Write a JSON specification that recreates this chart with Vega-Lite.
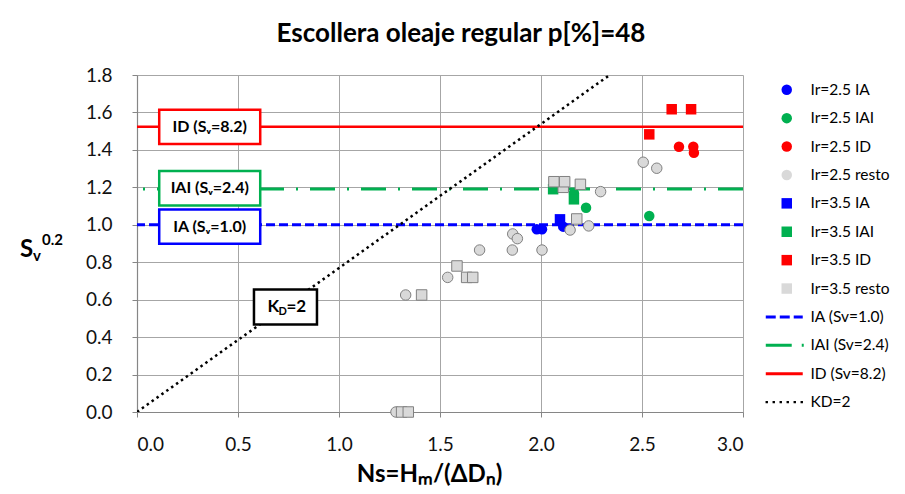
{
  "$schema": "https://vega.github.io/schema/vega-lite/v6.json",
  "width": 606,
  "height": 337,
  "autosize": "none",
  "padding": {"left": 137, "top": 75, "right": 162, "bottom": 82},
  "background": "white",
  "config": {
    "font": "Lato",
    "view": {"stroke": null},
    "axis": {
      "labelFont": "Lato", "labelFontSize": 19, "labelColor": "#111", "format": ".1f",
      "gridColor": "#a6a6a6", "gridWidth": 1, "domainColor": "#868686", "domainWidth": 1.2,
      "tickColor": "#868686", "tickSize": 5, "titleFont": "Lato", "titleColor": "#000"
    },
    "axisX": {"tickCount": 20, "labelPadding": 18, "labelOverlap": false},
    "axisY": {"tickCount": 20, "labelPadding": 20, "labelOverlap": false}
  },
  "title": {
    "text": "Escollera oleaje regular p[%]=48",
    "font": "Lato", "fontSize": 26, "fontWeight": "bold", "color": "#000",
    "anchor": "middle", "dx": 21, "offset": 19
  },
  "datasets": {
    "hlines": [
      {"name": "IA", "sv": 1.0},
      {"name": "IAI", "sv": 1.191},
      {"name": "ID", "sv": 1.523}
    ],
    "kd": [
      {"ns": 0.0, "sv": 0.0},
      {"ns": 2.34, "sv": 1.8}
    ],
    "points": [
      {"serie": "Ir=2.5 IA", "ns": 1.979, "sv": 0.976},
      {"serie": "Ir=2.5 IA", "ns": 2.005, "sv": 0.976},
      {"serie": "Ir=2.5 IA", "ns": 2.11, "sv": 0.99},
      {"serie": "Ir=2.5 IAI", "ns": 2.163, "sv": 1.168},
      {"serie": "Ir=2.5 IAI", "ns": 2.223, "sv": 1.091},
      {"serie": "Ir=2.5 IAI", "ns": 2.536, "sv": 1.047},
      {"serie": "Ir=2.5 ID", "ns": 2.683, "sv": 1.417},
      {"serie": "Ir=2.5 ID", "ns": 2.754, "sv": 1.417},
      {"serie": "Ir=2.5 ID", "ns": 2.757, "sv": 1.385},
      {"serie": "Ir=2.5 resto", "ns": 2.506, "sv": 1.334},
      {"serie": "Ir=2.5 resto", "ns": 2.573, "sv": 1.302},
      {"serie": "Ir=2.5 resto", "ns": 2.295, "sv": 1.177},
      {"serie": "Ir=2.5 resto", "ns": 2.144, "sv": 0.972},
      {"serie": "Ir=2.5 resto", "ns": 2.236, "sv": 0.994},
      {"serie": "Ir=2.5 resto", "ns": 1.86, "sv": 0.951},
      {"serie": "Ir=2.5 resto", "ns": 1.883, "sv": 0.926},
      {"serie": "Ir=2.5 resto", "ns": 1.696, "sv": 0.865},
      {"serie": "Ir=2.5 resto", "ns": 1.858, "sv": 0.865},
      {"serie": "Ir=2.5 resto", "ns": 2.005, "sv": 0.865},
      {"serie": "Ir=2.5 resto", "ns": 1.538, "sv": 0.719},
      {"serie": "Ir=2.5 resto", "ns": 1.33, "sv": 0.625},
      {"serie": "Ir=2.5 resto", "ns": 1.282, "sv": 0.0},
      {"serie": "Ir=3.5 IA", "ns": 2.094, "sv": 1.029},
      {"serie": "Ir=3.5 IAI", "ns": 2.163, "sv": 1.136},
      {"serie": "Ir=3.5 IAI", "ns": 2.06, "sv": 1.19},
      {"serie": "Ir=3.5 ID", "ns": 2.647, "sv": 1.617},
      {"serie": "Ir=3.5 ID", "ns": 2.743, "sv": 1.617},
      {"serie": "Ir=3.5 ID", "ns": 2.536, "sv": 1.483},
      {"serie": "Ir=3.5 resto", "ns": 2.11, "sv": 1.2},
      {"serie": "Ir=3.5 resto", "ns": 2.064, "sv": 1.23},
      {"serie": "Ir=3.5 resto", "ns": 2.117, "sv": 1.23},
      {"serie": "Ir=3.5 resto", "ns": 2.195, "sv": 1.216},
      {"serie": "Ir=3.5 resto", "ns": 2.177, "sv": 1.031},
      {"serie": "Ir=3.5 resto", "ns": 1.584, "sv": 0.78},
      {"serie": "Ir=3.5 resto", "ns": 1.632, "sv": 0.719},
      {"serie": "Ir=3.5 resto", "ns": 1.662, "sv": 0.719},
      {"serie": "Ir=3.5 resto", "ns": 1.409, "sv": 0.625},
      {"serie": "Ir=3.5 resto", "ns": 1.31, "sv": 0.0},
      {"serie": "Ir=3.5 resto", "ns": 1.343, "sv": 0.0}
    ],
    "boxes": [
      {"grp": "ID", "label": "ID (Sᵥ=8.2)", "ns": 0.36, "sv": 1.523},
      {"grp": "IAI", "label": "IAI (Sᵥ=2.4)", "ns": 0.36, "sv": 1.195},
      {"grp": "IA", "label": "IA (Sᵥ=1.0)", "ns": 0.36, "sv": 0.99}
    ],
    "kdbox": [
      {"ns": 0.735, "sv": 0.561}
    ],
    "ytitle": [
      {"ns": 0, "sv": 0.828}
    ]
  },
  "layer": [
    {
      "data": {"name": "hlines"},
      "transform": [{"filter": "datum.name == 'IA'"}],
      "mark": {"type": "rule", "color": "#0000ff", "strokeWidth": 3, "strokeDash": [9, 4]},
      "encoding": {"y": {"field": "sv", "type": "quantitative", "scale": {"domain": [0, 1.8], "nice": false, "zero": false}, "axis": {"values": [0, 0.2, 0.4, 0.6, 0.8, 1.0, 1.2, 1.4, 1.6, 1.8], "title": null}}}
    },
    {
      "data": {"name": "hlines"},
      "transform": [{"filter": "datum.name == 'IAI'"}],
      "mark": {"type": "rule", "color": "#00b050", "strokeWidth": 3, "strokeDash": [25, 12, 2, 12]},
      "encoding": {"y": {"field": "sv", "type": "quantitative"}}
    },
    {
      "data": {"name": "hlines"},
      "transform": [{"filter": "datum.name == 'ID'"}],
      "mark": {"type": "rule", "color": "#ff0000", "strokeWidth": 2.5},
      "encoding": {"y": {"field": "sv", "type": "quantitative"}}
    },
    {
      "data": {"name": "kd"},
      "mark": {"type": "line", "color": "#000000", "strokeWidth": 2.5, "strokeDash": [2.5, 3.5], "clip": true},
      "encoding": {
        "x": {
          "field": "ns", "type": "quantitative",
          "scale": {"domain": [0, 3], "nice": false, "zero": false},
          "axis": {
            "values": [0, 0.5, 1, 1.5, 2, 2.5, 3],
            "title": "Ns=Hₘ/(ΔDₙ)", "titleFontSize": 24, "titleFontWeight": "bold",
            "titleX": 292, "titleY": 69, "titleBaseline": "alphabetic"
          }
        },
        "y": {"field": "sv", "type": "quantitative"}
      }
    },
    {
      "data": {"name": "points"},
      "mark": {"type": "point", "filled": true, "size": 110, "opacity": 1, "strokeWidth": 1},
      "encoding": {
        "x": {"field": "ns", "type": "quantitative"},
        "y": {"field": "sv", "type": "quantitative"},
        "color": {
          "field": "serie", "type": "nominal",
          "scale": {
            "domain": ["Ir=2.5 IA", "Ir=2.5 IAI", "Ir=2.5 ID", "Ir=2.5 resto", "Ir=3.5 IA", "Ir=3.5 IAI", "Ir=3.5 ID", "Ir=3.5 resto", "IA (Sv=1.0)", "IAI (Sv=2.4)", "ID (Sv=8.2)", "KD=2"],
            "range": ["#0000ff", "#00b050", "#ff0000", "#d9d9d9", "#0000ff", "#00b050", "#ff0000", "#d9d9d9", "#0000ff", "#00b050", "#ff0000", "#000000"]
          },
          "legend": {
            "orient": "none", "legendX": 642, "legendY": 7, "title": null, "padding": 0,
            "labelFont": "Lato", "labelFontSize": 15.5, "labelColor": "#000", "labelOffset": 16,
            "symbolSize": 110, "rowPadding": 11.4
          }
        },
        "shape": {
          "field": "serie", "type": "nominal",
          "scale": {
            "domain": ["Ir=2.5 IA", "Ir=2.5 IAI", "Ir=2.5 ID", "Ir=2.5 resto", "Ir=3.5 IA", "Ir=3.5 IAI", "Ir=3.5 ID", "Ir=3.5 resto", "IA (Sv=1.0)", "IAI (Sv=2.4)", "ID (Sv=8.2)", "KD=2"],
            "range": [
              "circle", "circle", "circle", "circle", "square", "square", "square", "square",
              "M-4,-0.29H-2.1V0.29H-4Z M-1.33,-0.29H0.57V0.29H-1.33Z M1.33,-0.29H3.05V0.29H1.33Z",
              "M-4,-0.29H0.95V0.29H-4Z M2.86,-0.29H3.24V0.29H2.86Z",
              "M-4,-0.29H3.05V0.29H-4Z",
              "M-4.044,-0.23H-3.584V0.23H-4.044Z M-2.709,-0.23H-2.249V0.23H-2.709Z M-1.374,-0.23H-0.914V0.23H-1.374Z M-0.039,-0.23H0.421V0.23H-0.039Z M1.296,-0.23H1.756V0.23H1.296Z M2.63,-0.23H3.09V0.23H2.63Z"
            ]
          },
          "legend": {
            "orient": "none", "legendX": 642, "legendY": 7, "title": null, "padding": 0,
            "labelFont": "Lato", "labelFontSize": 15.5, "labelColor": "#000", "labelOffset": 16,
            "symbolSize": 110, "rowPadding": 11.4
          }
        },
        "stroke": {
          "condition": {"test": "test(/resto/, '' + datum.serie)", "value": "#808080"},
          "value": null
        }
      }
    },
    {
      "data": {"name": "boxes"},
      "mark": {"type": "point", "shape": "M-1,-0.34H1V0.34H-1Z", "size": 10201, "filled": true, "fill": "white", "strokeWidth": 2.5, "opacity": 1},
      "encoding": {
        "x": {"field": "ns", "type": "quantitative"},
        "y": {"field": "sv", "type": "quantitative"},
        "stroke": {
          "condition": [
            {"test": "datum.grp == 'ID'", "value": "#ff0000"},
            {"test": "datum.grp == 'IAI'", "value": "#00b050"}
          ],
          "value": "#0000ff"
        }
      }
    },
    {
      "data": {"name": "boxes"},
      "mark": {"type": "text", "font": "Lato", "fontSize": 16, "fontWeight": "bold", "color": "#000", "align": "center", "baseline": "middle"},
      "encoding": {
        "x": {"field": "ns", "type": "quantitative"},
        "y": {"field": "sv", "type": "quantitative"},
        "text": {"field": "label"}
      }
    },
    {
      "data": {"name": "kdbox"},
      "mark": {"type": "point", "shape": "M-1,-0.556H1V0.556H-1Z", "size": 3969, "filled": true, "fill": "white", "stroke": "#000", "strokeWidth": 2.5, "opacity": 1},
      "encoding": {
        "x": {"field": "ns", "type": "quantitative"},
        "y": {"field": "sv", "type": "quantitative"}
      }
    },
    {
      "data": {"name": "kdbox"},
      "mark": {"type": "text", "text": "K", "font": "Lato", "fontSize": 17, "fontWeight": "bold", "color": "#000", "align": "left", "baseline": "middle", "dx": -18},
      "encoding": {
        "x": {"field": "ns", "type": "quantitative"},
        "y": {"field": "sv", "type": "quantitative"}
      }
    },
    {
      "data": {"name": "kdbox"},
      "mark": {"type": "text", "text": "D", "font": "Lato", "fontSize": 11, "fontWeight": "bold", "color": "#000", "align": "left", "baseline": "middle", "dx": -7, "dy": 5},
      "encoding": {
        "x": {"field": "ns", "type": "quantitative"},
        "y": {"field": "sv", "type": "quantitative"}
      }
    },
    {
      "data": {"name": "kdbox"},
      "mark": {"type": "text", "text": "=2", "font": "Lato", "fontSize": 17, "fontWeight": "bold", "color": "#000", "align": "left", "baseline": "middle", "dx": 1},
      "encoding": {
        "x": {"field": "ns", "type": "quantitative"},
        "y": {"field": "sv", "type": "quantitative"}
      }
    },
    {
      "data": {"name": "ytitle"},
      "mark": {"type": "text", "text": "S", "font": "Lato", "fontSize": 24, "fontWeight": "bold", "color": "#000", "align": "left", "baseline": "alphabetic", "dx": -117},
      "encoding": {
        "x": {"field": "ns", "type": "quantitative"},
        "y": {"field": "sv", "type": "quantitative"}
      }
    },
    {
      "data": {"name": "ytitle"},
      "mark": {"type": "text", "text": "v", "font": "Lato", "fontSize": 15, "fontWeight": "bold", "color": "#000", "align": "left", "baseline": "alphabetic", "dx": -104, "dy": 4},
      "encoding": {
        "x": {"field": "ns", "type": "quantitative"},
        "y": {"field": "sv", "type": "quantitative"}
      }
    },
    {
      "data": {"name": "ytitle"},
      "mark": {"type": "text", "text": "0.2", "font": "Lato", "fontSize": 15, "fontWeight": "bold", "color": "#000", "align": "left", "baseline": "alphabetic", "dx": -95, "dy": -12},
      "encoding": {
        "x": {"field": "ns", "type": "quantitative"},
        "y": {"field": "sv", "type": "quantitative"}
      }
    }
  ]
}
